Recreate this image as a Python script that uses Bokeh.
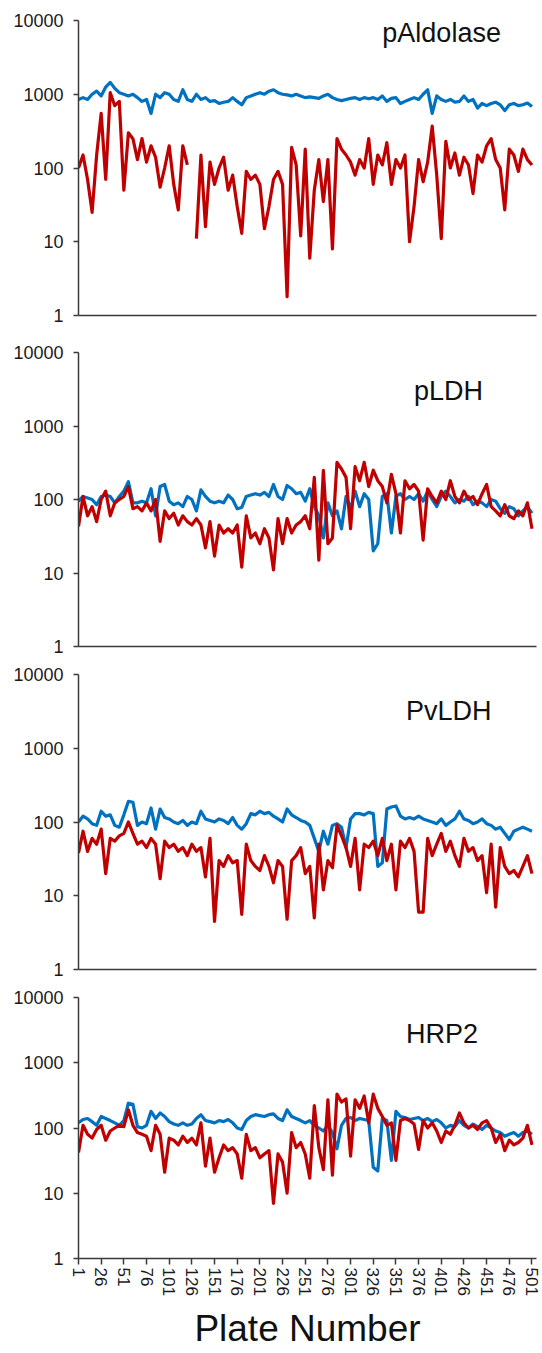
from bokeh.plotting import figure
from bokeh.layouts import column
from bokeh.models import Range1d, FixedTicker, PrintfTickFormatter, Label
from bokeh.embed import file_html
from bokeh.resources import INLINE

nan = float("nan")

# plate numbers sampled every 5 plates
plates = list(range(1, 502, 5))
x_ticks = list(range(1, 502, 25))
y_ticks = [1, 10, 100, 1000, 10000]

panel_names = ["pAldolase", "pLDH", "PvLDH", "HRP2"]

pAldolase_blue = [
    850, 900, 850, 1000, 1100, 950, 1250, 1450, 1200, 1050,
    1000, 950, 1000, 900, 800, 850, 550, 1000, 900, 1050,
    1000, 850, 800, 1150, 850, 800, 1000, 850, 900, 800,
    820, 750, 780, 800, 900, 800, 720, 900, 950, 1000,
    1050, 1000, 1100, 1150, 1050, 1000, 980, 950, 1000, 950,
    900, 920, 900, 880, 950, 1000, 900, 850, 820, 850,
    880, 900, 850, 900, 870, 900, 850, 950, 800, 880,
    900, 750, 800, 850, 900, 850, 1000, 1150, 550, 950,
    850, 800, 850, 780, 800, 950, 800, 850, 650, 750,
    700, 750, 780, 720, 600, 720, 750, 700, 720, 760,
    680]
pAldolase_red = [
    100, 150, 70, 25, 150, 550, 70, 1050, 700, 800,
    50, 300, 250, 130, 250, 120, 200, 140, 55, 100,
    200, 60, 27, 200, 110, nan, 11, 150, 16, 120,
    60, 100, 140, 50, 80, 30, 13, 90, 70, 80,
    60, 15, 30, 70, 90, 60, 1.8, 190, 110, 12,
    180, 6, 50, 130, 35, 130, 8, 250, 180, 150,
    120, 80, 130, 100, 250, 60, 150, 110, 220, 60,
    130, 100, 150, 10, 30, 130, 65, 120, 370, 80,
    11, 230, 100, 160, 80, 140, 110, 45, 150, 120,
    200, 250, 130, 100, 27, 180, 150, 90, 180, 130,
    110]

pLDH_blue = [
    95, 110, 105, 100, 85, 110, 115, 110, 90, 110,
    130, 175, 90, 90, 95, 90, 140, 60, 150, 160,
    95, 85, 90, 80, 110, 100, 70, 135, 110, 95,
    90, 95, 90, 115, 100, 75, 78, 110, 115, 120,
    115, 125, 110, 160, 110, 100, 155, 140, 120, 125,
    95, 140, 80, 60, 30, 90, 60, 70, 40, 110,
    75, 130, 80, 120, 100, 20, 25, 110, 120, 35,
    110, 120, 100, 110, 100, 120, 95, 130, 100, 80,
    110, 130, 110, 90, 100, 95, 110, 85, 95, 90,
    80, 100, 95, 75, 65, 80, 75, 60, 70, 80,
    65]
pLDH_red = [
    43, 110, 60, 80, 50, 100, 130, 60, 90, 100,
    110, 150, 75, 80, 70, 90, 70, 100, 27, 70,
    55, 65, 45, 60, 50, 45, 55, 45, 22, 50,
    17, 45, 35, 40, 35, 45, 12, 60, 30, 35,
    25, 40, 30, 11, 55, 25, 55, 35, 45, 50,
    60, 40, 200, 15, 250, 25, 30, 320, 260, 200,
    40, 280, 180, 320, 150, 250, 180, 150, 90, 220,
    120, 35, 180, 140, 160, 130, 28, 140, 110, 90,
    130, 100, 180, 110, 90, 130, 100, 110, 85, 120,
    160, 80, 70, 60, 85, 60, 55, 70, 60, 90,
    40]

PvLDH_blue = [
    100, 120, 110, 95, 90, 140, 120, 125, 90, 85,
    125, 190, 185, 90, 100, 95, 155, 80, 150, 115,
    110, 100, 95, 105, 90, 100, 95, 140, 110, 105,
    100, 110, 105, 95, 115, 90, 80, 95, 130, 125,
    140, 130, 135, 120, 110, 100, 150, 125, 115, 105,
    100, 90, 60, 40, 75, 50, 90, 95, 85, 45,
    110, 130, 130, 125, 135, 130, 25, 28, 150, 160,
    165, 120, 110, 115, 110, 120, 110, 105, 100, 95,
    110, 90, 100, 110, 140, 110, 105, 95, 100, 110,
    95, 90, 80, 85, 70, 58, 75, 80, 85, 80,
    75]
PvLDH_red = [
    38, 75, 40, 60, 50, 80, 20, 60, 55, 65,
    70, 100, 70, 50, 55, 45, 60, 50, 17, 55,
    45, 50, 40, 45, 35, 50, 40, 45, 18, 60,
    4.5, 30, 25, 35, 28, 30, 5.6, 50, 30, 25,
    22, 35, 25, 15, 30, 25, 4.8, 30, 35, 45,
    20, 25, 5, 50, 12, 30, 24, 90, 65, 45,
    25, 60, 12, 50, 45, 55, 35, 60, 30, 50,
    12, 55, 45, 60, 40, 6, 6, 60, 35, 50,
    70, 40, 55, 35, 25, 60, 40, 45, 30, 35,
    11, 50, 7, 45, 25, 20, 22, 18, 25, 35,
    20]

HRP2_blue = [
    120, 135, 140, 125, 110, 150, 140, 130, 120, 110,
    130, 240, 230, 105, 100, 110, 180, 140, 170, 150,
    125, 115, 110, 120, 110, 115, 140, 160, 130, 125,
    120, 130, 125, 135, 120, 100, 95, 130, 150, 160,
    155, 150, 160, 165, 140, 130, 190, 150, 140, 130,
    120, 130, 110, 100, 90, 110, 85, 48, 110, 140,
    145, 130, 140, 135, 130, 25, 22, 140, 130, 32,
    180, 150, 145, 135, 140, 145, 130, 140, 125, 135,
    120, 100, 110, 105, 130, 110, 100, 115, 105, 95,
    110, 100, 90, 85, 75, 80, 85, 75, 85, 90,
    80]
HRP2_red = [
    42, 110, 80, 70, 95, 110, 65, 90, 100, 110,
    105, 190, 110, 85, 80, 75, 45, 110, 80, 21,
    70, 65, 55, 75, 60, 70, 55, 120, 26, 70,
    21, 35, 55, 45, 50, 40, 17, 80, 45, 50,
    35, 40, 45, 7, 40, 30, 10, 85, 50, 60,
    40, 17, 220, 50, 23, 270, 19, 330, 250, 280,
    37, 270, 200, 310, 120, 330, 200, 150, 110, 120,
    32, 130, 140, 130, 115, 47, 130, 100, 120, 90,
    60, 90, 80, 110, 170, 120, 100, 110, 95, 120,
    130, 100, 60, 80, 45, 65, 55, 60, 70, 110,
    55]

# label anchor (plate, value) for each panel name
label_x = [336, 371, 362, 362]
label_y = [6670, 3040, 3160, 2710]

blue_series = [pAldolase_blue, pLDH_blue, PvLDH_blue, HRP2_blue]
red_series = [pAldolase_red, pLDH_red, PvLDH_red, HRP2_red]

BLUE = "#0070C0"
RED = "#C00000"
AXIS = "#3a3a3a"
FONT = "Liberation Sans"

frame_heights = [295, 294, 295, 261]
top_borders = [20, 19, 10, 10]

figs = []
for i in range(4):
    last = (i == 3)
    p = figure(
        frame_width=458, frame_height=frame_heights[i],
        x_range=Range1d(1, 506), y_range=Range1d(1, 10000),
        y_axis_type="log", output_backend="svg", toolbar_location=None,
        min_border_left=78, min_border_right=6,
        min_border_top=top_borders[i], min_border_bottom=(0 if last else 18),
    )
    p.outline_line_color = None
    p.xgrid.visible = False
    p.ygrid.visible = False
    p.background_fill_color = "white"
    p.border_fill_color = "white"

    p.line(plates, blue_series[i], line_color=BLUE, line_width=3.2, line_join="round")
    p.line(plates, red_series[i], line_color=RED, line_width=3.2, line_join="round")

    ya = p.yaxis[0]
    ya.ticker = FixedTicker(ticks=y_ticks)
    ya.formatter = PrintfTickFormatter(format="%d")
    ya.axis_line_color = AXIS
    ya.axis_line_width = 1.5
    ya.major_tick_line_color = AXIS
    ya.major_tick_line_width = 1.5
    ya.major_tick_in = 0
    ya.major_tick_out = 5
    ya.minor_tick_line_color = None
    ya.major_label_standoff = 10
    ya.major_label_text_font = FONT
    ya.major_label_text_font_size = "18px"
    ya.major_label_text_color = "#1a1a1a"

    xa = p.xaxis[0]
    xa.axis_line_color = AXIS
    xa.axis_line_width = 1.5
    xa.minor_tick_line_color = None
    if last:
        xa.ticker = FixedTicker(ticks=x_ticks)
        xa.major_tick_line_color = AXIS
        xa.major_tick_line_width = 1.5
        xa.major_tick_in = 0
        xa.major_tick_out = 6
        xa.major_label_standoff = 3
        xa.major_label_orientation = "vertical"
        xa.major_label_text_font = FONT
        xa.major_label_text_font_size = "17px"
        xa.major_label_text_color = "#1a1a1a"
        xa.axis_label = "Plate Number"
        xa.axis_label_text_font = FONT
        xa.axis_label_text_font_size = "37px"
        xa.axis_label_text_font_style = "normal"
        xa.axis_label_text_color = "#111111"
        xa.axis_label_standoff = 9
    else:
        xa.ticker = FixedTicker(ticks=[])
        xa.major_tick_line_color = None
        xa.major_label_text_font_size = "0px"

    p.add_layout(Label(x=label_x[i], y=label_y[i], text=panel_names[i],
                       text_font=FONT, text_font_size="27px",
                       text_color="#111111", text_align="left",
                       text_baseline="alphabetic"))
    figs.append(p)

layout = column(*figs, spacing=0)
open("out.html", "w").write(file_html(layout, INLINE))
